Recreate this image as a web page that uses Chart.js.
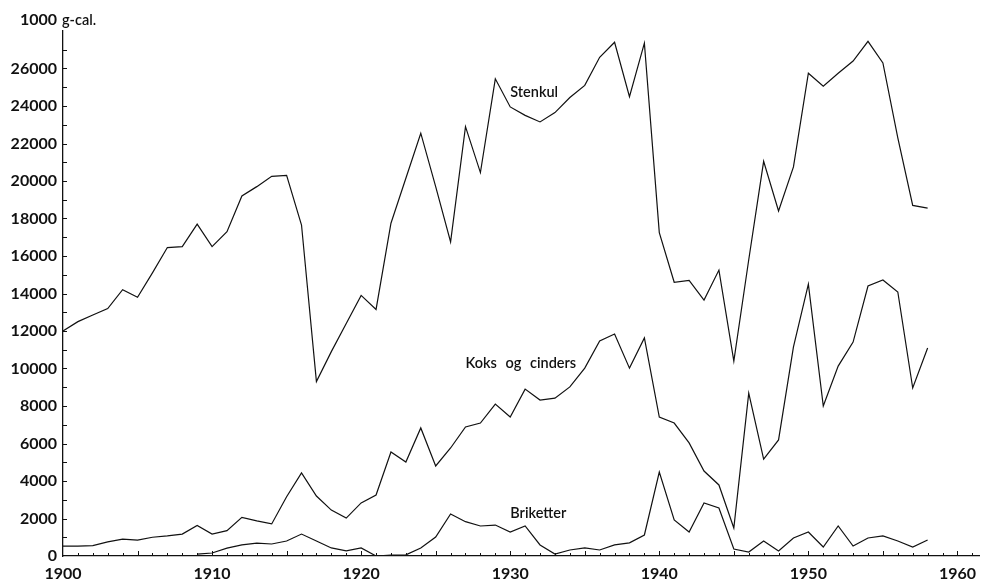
<!DOCTYPE html>
<html>
<head>
<meta charset="utf-8">
<script src="https://cdn.jsdelivr.net/npm/chart.js@4.4.1/dist/chart.umd.min.js"></script>
<style>
  html, body { margin: 0; padding: 0; background: #fff; }
  #wrap { width: 984px; height: 579px; }
</style>
</head>
<body>
<div id="wrap"><canvas id="chart" width="984" height="579"></canvas></div>
<script>
// Forbruk av brensel, 1000 g-cal., 1900-1958
const years = [
  1900, 1901, 1902, 1903, 1904, 1905, 1906, 1907, 1908, 1909,
  1910, 1911, 1912, 1913, 1914, 1915, 1916, 1917, 1918, 1919,
  1920, 1921, 1922, 1923, 1924, 1925, 1926, 1927, 1928, 1929,
  1930, 1931, 1932, 1933, 1934, 1935, 1936, 1937, 1938, 1939,
  1940, 1941, 1942, 1943, 1944, 1945, 1946, 1947, 1948, 1949,
  1950, 1951, 1952, 1953, 1954, 1955, 1956, 1957, 1958
];

const stenkul = [
  12000, 12500, 12850, 13200, 14200, 13800, 15100, 16450, 16500, 17700,
  16500, 17300, 19200, 19700, 20250, 20300, 17650, 9300, 10900, 12400,
  13900, 13150, 17750, 20150, 22550, 19700, 16750, 22900, 20450, 25450,
  23950, 23500, 23150, 23650, 24450, 25100, 26600, 27400, 24500, 27350,
  17250, 14600, 14700, 13650, 15250, 10400, 15800, 21050, 18400, 20750,
  25750, 25050, 25750, 26400, 27450, 26300, 22300, 18700, 18550
];

const koks = [
  530, 530, 550, 750, 900, 850, 1000, 1070, 1170, 1630,
  1170, 1350, 2060, 1870, 1710, 3160, 4430, 3200, 2450, 2020,
  2830, 3250, 5550, 5010, 6830, 4800, 5760, 6880, 7090, 8100,
  7410, 8900, 8320, 8420, 9020, 10020, 11470, 11840, 10020, 11630,
  7410, 7090, 6030, 4530, 3790, 1490, 8690, 5170, 6190, 11150,
  14500, 8000, 10130, 11410, 14400, 14720, 14080, 8960, 11090
];

// briketter starts in 1909
const briketter = [
  null, null, null, null, null, null, null, null, null, 100,
  160, 420, 590, 690, 640, 800, 1170, 800, 430, 270,
  430, 0, 50, 60, 430, 1010, 2240, 1830, 1600, 1650,
  1280, 1600, 590, 100, 320, 430, 320, 590, 700, 1120,
  4480, 1920, 1280, 2830, 2560, 370, 210, 800, 270, 960,
  1280, 480, 1600, 530, 960, 1070, 800, 480, 850
];

const seriesNames = ['Stenkul', 'Koks og cinders', 'Briketter'];
const xLabels = [1900, 1910, 1920, 1930, 1940, 1950, 1960];
const yLabels = [0, 2000, 4000, 6000, 8000, 10000, 12000, 14000, 16000, 18000, 20000, 22000, 24000, 26000];
const unitLabel = ['1000', 'g-cal.'];
// where the series names sit, in data units (left edge year, middle value)
const nameAnchors = [[1930.0, 24750], [1927.0, 10250], [1930.0, 2300]];

const INK = '#111';
const FONT = "Lato, 'DejaVu Sans', sans-serif";

function pts(vals) {
  return years.map((y, i) => ({ x: y, y: vals[i] }));
}

function lineSet(label, vals) {
  return {
    label,
    data: pts(vals),
    borderColor: INK,
    borderWidth: 1.2,
    pointRadius: 0,
    tension: 0,
    fill: false,
    spanGaps: false
  };
}

// inward tick marks + labels on the lines
const decorations = {
  id: 'decorations',
  afterDatasetsDraw(chart) {
    const { ctx, chartArea, scales: { x, y } } = chart;
    ctx.save();
    ctx.strokeStyle = INK;
    ctx.lineWidth = 1;
    ctx.beginPath();
    for (let v = 1000; v < 28000; v += 1000) {
      const py = Math.round(y.getPixelForValue(v)) + 0.5;
      ctx.moveTo(chartArea.left, py);
      ctx.lineTo(chartArea.left + 4, py);
    }
    for (let yr = 1901; yr <= 1961; yr++) {
      const px = Math.round(x.getPixelForValue(yr)) + 0.5;
      const len = yr % 5 === 0 ? 5 : 3;
      ctx.moveTo(px, chartArea.bottom);
      ctx.lineTo(px, chartArea.bottom - len);
    }
    ctx.stroke();

    ctx.fillStyle = INK;
    ctx.textBaseline = 'middle';
    ctx.textAlign = 'left';
    ctx.font = '600 14.5px ' + FONT;
    ctx.wordSpacing = '5px';
    nameAnchors.forEach((a, i) => {
      ctx.fillText(seriesNames[i], x.getPixelForValue(a[0]), y.getPixelForValue(a[1]));
    });
    ctx.wordSpacing = '0px';

    ctx.textAlign = 'right';
    ctx.font = 'bold 16px ' + FONT;
    ctx.fillText(unitLabel[0], chartArea.left - 6, 20);
    ctx.textAlign = 'left';
    ctx.font = '600 14.5px ' + FONT;
    ctx.fillText(unitLabel[1], chartArea.left - 1, 20);
    ctx.restore();
  }
};

new Chart(document.getElementById('chart').getContext('2d'), {
  type: 'line',
  data: {
    datasets: [
      lineSet(seriesNames[0], stenkul),
      lineSet(seriesNames[1], koks),
      lineSet(seriesNames[2], briketter)
    ]
  },
  options: {
    responsive: false,
    animation: false,
    devicePixelRatio: 1,
    layout: { padding: { top: 31, right: 0, bottom: 0, left: 0 } },
    plugins: { legend: { display: false }, tooltip: { enabled: false } },
    scales: {
      x: {
        type: 'linear',
        min: 1900,
        max: 1961.5,
        afterBuildTicks: s => { s.ticks = xLabels.map(v => ({ value: v })); },
        afterFit: s => { s.height = 23; },
        grid: { display: false, drawTicks: false },
        border: { display: true, color: INK, width: 1.3 },
        ticks: {
          color: INK,
          padding: 8,
          maxRotation: 0,
          autoSkip: false,
          font: { family: FONT, size: 16, weight: 'bold' },
          callback: v => String(v)
        }
      },
      y: {
        min: 0,
        max: 28000,
        afterBuildTicks: s => { s.ticks = yLabels.map(v => ({ value: v })); },
        afterFit: s => { s.width = 63; },
        grid: { display: false, drawTicks: false },
        border: { display: true, color: INK, width: 1.3 },
        ticks: {
          color: INK,
          padding: 6,
          autoSkip: false,
          font: { family: FONT, size: 16, weight: 'bold' },
          callback: v => String(v)
        }
      }
    }
  },
  plugins: [decorations]
});
</script>
</body>
</html>
